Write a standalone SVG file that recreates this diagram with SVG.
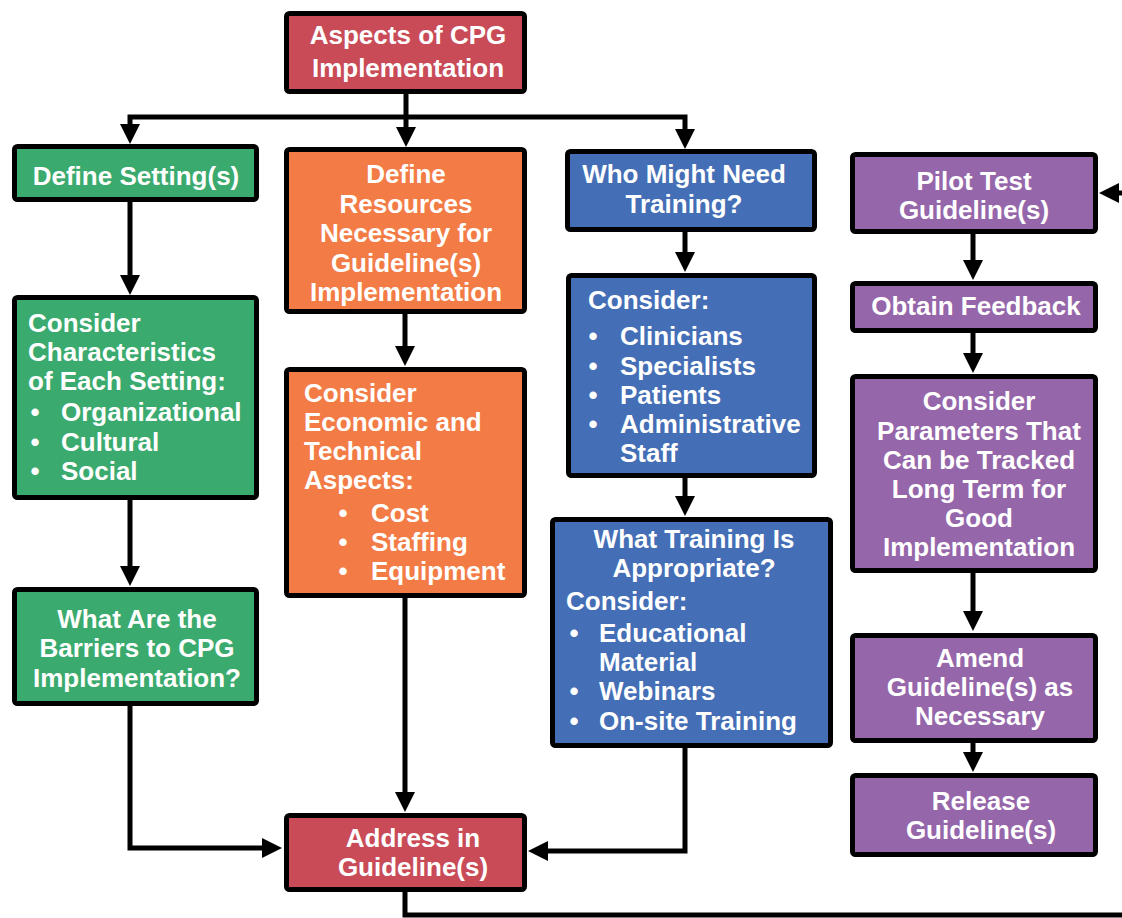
<svg xmlns="http://www.w3.org/2000/svg" width="1122" height="918" viewBox="0 0 1122 918">
<defs>
<style>
.box{stroke:#000;stroke-width:5;}
.red{fill:#C84B57;}
.green{fill:#3BAA6E;}
.orange{fill:#F37C46;}
.blue{fill:#446EB5;}
.purple{fill:#9566AA;}
text{font-family:"Liberation Sans",Arial,Helvetica,sans-serif;font-weight:bold;font-size:26px;fill:#fff;}
.c{text-anchor:middle;}
.b{text-anchor:middle;}
.conn{fill:none;stroke:#000;stroke-width:5;stroke-linejoin:miter;}
</style>
<marker id="arr" markerUnits="userSpaceOnUse" markerWidth="20" markerHeight="20" refX="10" refY="10" orient="auto" viewBox="0 0 20 20">
<path d="M0,0 L20,10 L0,20 Z" fill="#000"/>
</marker>
</defs>
<rect width="1122" height="918" fill="#fff"/>

<g id="connectors">
<path class="conn" d="M406,94 V117"/>
<path class="conn" d="M406,117 H130 V134" marker-end="url(#arr)"/>
<path class="conn" d="M406,117 V137" marker-end="url(#arr)"/>
<path class="conn" d="M406,117 H685 V139" marker-end="url(#arr)"/>
<path class="conn" d="M130,202 V285" marker-end="url(#arr)"/>
<path class="conn" d="M405,314 V356" marker-end="url(#arr)"/>
<path class="conn" d="M685,232 V262" marker-end="url(#arr)"/>
<path class="conn" d="M973,234 V270" marker-end="url(#arr)"/>
<path class="conn" d="M130,500 V576" marker-end="url(#arr)"/>
<path class="conn" d="M685,478 V506" marker-end="url(#arr)"/>
<path class="conn" d="M973,333 V363" marker-end="url(#arr)"/>
<path class="conn" d="M973,573 V621" marker-end="url(#arr)"/>
<path class="conn" d="M973,743 V762" marker-end="url(#arr)"/>
<path class="conn" d="M130,706 V848 H272" marker-end="url(#arr)"/>
<path class="conn" d="M405,598 V802" marker-end="url(#arr)"/>
<path class="conn" d="M685,748 V851 H538" marker-end="url(#arr)"/>
<path class="conn" d="M405,892 V915 H1130 V193 H1109" marker-end="url(#arr)"/>
</g>

<g id="aspects">
<rect class="box red" x="286.5" y="13.5" width="238" height="78" rx="3"/>
<text class="c" x="408" y="44">Aspects of CPG</text>
<text class="c" x="408" y="77">Implementation</text>
</g>

<g id="define-setting">
<rect class="box green" x="14.5" y="146.5" width="242" height="53" rx="3"/>
<text class="c" x="136" y="185">Define Setting(s)</text>
</g>

<g id="define-resources">
<rect class="box orange" x="286.5" y="149.5" width="238" height="162" rx="3"/>
<text class="c" x="406" y="183">Define</text>
<text class="c" x="406" y="213">Resources</text>
<text class="c" x="406" y="242">Necessary for</text>
<text class="c" x="406" y="272">Guideline(s)</text>
<text class="c" x="406" y="301">Implementation</text>
</g>

<g id="who-training">
<rect class="box blue" x="567.5" y="151.5" width="247" height="78" rx="3"/>
<text class="c" x="684" y="183">Who Might Need</text>
<text class="c" x="684" y="213">Training?</text>
</g>

<g id="pilot-test">
<rect class="box purple" x="852.5" y="154.5" width="243" height="77" rx="3"/>
<text class="c" x="974" y="190">Pilot Test</text>
<text class="c" x="974" y="219">Guideline(s)</text>
</g>

<g id="consider-characteristics">
<rect class="box green" x="14.5" y="297.5" width="242" height="200" rx="3"/>
<text x="28" y="332">Consider</text>
<text x="28" y="361">Characteristics</text>
<text x="28" y="390">of Each Setting:</text>
<text class="b" x="35" y="421">•</text><text x="61" y="421">Organizational</text>
<text class="b" x="35" y="451">•</text><text x="61" y="451">Cultural</text>
<text class="b" x="35" y="480">•</text><text x="61" y="480">Social</text>
</g>

<g id="consider-economic">
<rect class="box orange" x="286.5" y="369.5" width="238" height="226" rx="3"/>
<text x="304" y="402">Consider</text>
<text x="304" y="431">Economic and</text>
<text x="304" y="460">Technical</text>
<text x="304" y="489">Aspects:</text>
<text class="b" x="343" y="522">•</text><text x="371" y="522">Cost</text>
<text class="b" x="343" y="551">•</text><text x="371" y="551">Staffing</text>
<text class="b" x="343" y="580">•</text><text x="371" y="580">Equipment</text>
</g>

<g id="consider-people">
<rect class="box blue" x="568.5" y="275.5" width="246" height="200" rx="3"/>
<text x="588" y="309">Consider:</text>
<text class="b" x="593" y="345">•</text><text x="620" y="345">Clinicians</text>
<text class="b" x="593" y="375">•</text><text x="620" y="375">Specialists</text>
<text class="b" x="593" y="404">•</text><text x="620" y="404">Patients</text>
<text class="b" x="593" y="433">•</text><text x="620" y="433">Administrative</text>
<text x="620" y="462">Staff</text>
</g>

<g id="obtain-feedback">
<rect class="box purple" x="852.5" y="283.5" width="243" height="47" rx="3"/>
<text class="c" x="976" y="315">Obtain Feedback</text>
</g>

<g id="consider-parameters">
<rect class="box purple" x="852.5" y="376.5" width="243" height="194" rx="3"/>
<text class="c" x="979" y="410">Consider</text>
<text class="c" x="979" y="440">Parameters That</text>
<text class="c" x="979" y="469">Can be Tracked</text>
<text class="c" x="979" y="498">Long Term for</text>
<text class="c" x="979" y="527">Good</text>
<text class="c" x="979" y="556">Implementation</text>
</g>

<g id="barriers">
<rect class="box green" x="14.5" y="589.5" width="242" height="114" rx="3"/>
<text class="c" x="137" y="628">What Are the</text>
<text class="c" x="137" y="657">Barriers to CPG</text>
<text class="c" x="137" y="687">Implementation?</text>
</g>

<g id="what-training">
<rect class="box blue" x="552.5" y="519.5" width="278" height="226" rx="3"/>
<text class="c" x="694" y="548">What Training Is</text>
<text class="c" x="694" y="577">Appropriate?</text>
<text x="566" y="610">Consider:</text>
<text class="b" x="574" y="642">•</text><text x="599" y="642">Educational</text>
<text x="599" y="671">Material</text>
<text class="b" x="574" y="700">•</text><text x="599" y="700">Webinars</text>
<text class="b" x="574" y="730">•</text><text x="599" y="730">On-site Training</text>
</g>

<g id="amend">
<rect class="box purple" x="852.5" y="635.5" width="243" height="105" rx="3"/>
<text class="c" x="980" y="667">Amend</text>
<text class="c" x="980" y="696">Guideline(s) as</text>
<text class="c" x="980" y="725">Necessary</text>
</g>

<g id="release">
<rect class="box purple" x="852.5" y="775.5" width="243" height="79" rx="3"/>
<text class="c" x="981" y="810">Release</text>
<text class="c" x="981" y="839">Guideline(s)</text>
</g>

<g id="address">
<rect class="box red" x="286.5" y="815.5" width="238" height="74" rx="3"/>
<text class="c" x="413" y="847">Address in</text>
<text class="c" x="413" y="876">Guideline(s)</text>
</g>
</svg>
